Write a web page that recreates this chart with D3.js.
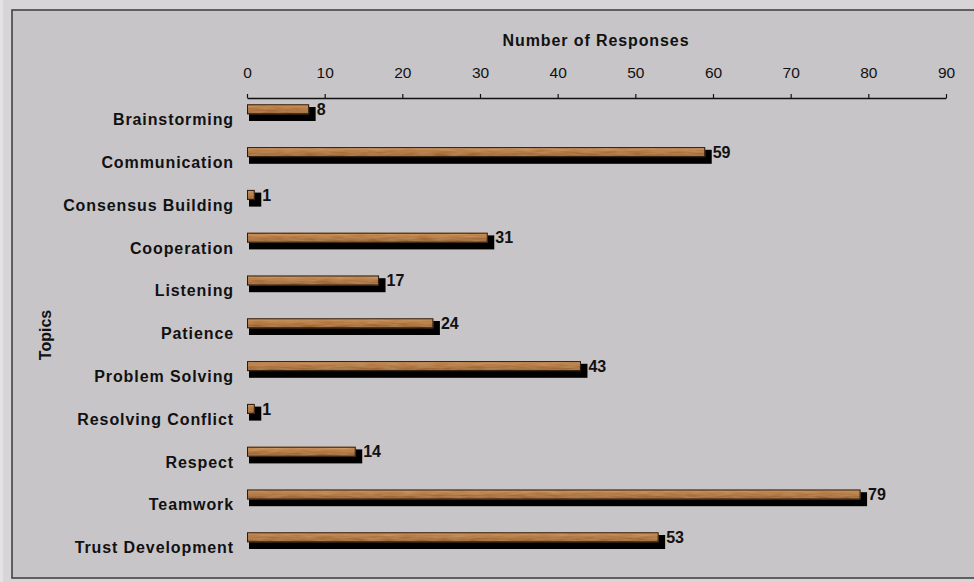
<!DOCTYPE html>
<html><head><meta charset="utf-8">
<script src="https://cdn.jsdelivr.net/npm/d3@7"></script>
<style>
html,body{margin:0;padding:0;background:#d8d6d8;}
svg{display:block;}
</style></head>
<body>
<svg id="chart" width="974" height="582"></svg>
<script>
const categories = ["Brainstorming","Communication","Consensus Building","Cooperation","Listening","Patience","Problem Solving","Resolving Conflict","Respect","Teamwork","Trust Development"];
const values = [8,59,1,31,17,24,43,1,14,79,53];
const tickValues = [0,10,20,30,40,50,60,70,80,90];
const xTitle = "Number of Responses";
const yTitle = "Topics";

const svg = d3.select("#chart");
const W = 974, H = 582;
const font = "'Liberation Sans', Arial, sans-serif";

const defs = svg.append("defs");
const grad = defs.append("linearGradient").attr("id","wood").attr("x1",0).attr("y1",0).attr("x2",0).attr("y2",1);
[[0,"#cf9658"],[0.3,"#b97c42"],[0.6,"#a66b35"],[0.85,"#9a6230"],[1,"#8d5829"]].forEach(s=>grad.append("stop").attr("offset",s[0]).attr("stop-color",s[1]));
const filt = defs.append("filter").attr("id","grain").attr("x",0).attr("y",0).attr("width",1).attr("height",1);
filt.append("feTurbulence").attr("type","fractalNoise").attr("baseFrequency","0.06 0.6").attr("numOctaves",2).attr("seed",3).attr("result","noise");
filt.append("feColorMatrix").attr("in","noise").attr("type","matrix")
  .attr("values","0 0 0 0 0.8  0 0 0 0 0.55  0 0 0 0 0.3  0 0 0 0.4 -0.1").attr("result","tint");
filt.append("feComposite").attr("in","tint").attr("in2","SourceGraphic").attr("operator","atop");

// outer background
svg.append("rect").attr("x",0).attr("y",0).attr("width",W).attr("height",H).attr("fill","#d7d5d7");
svg.append("rect").attr("x",0).attr("y",0).attr("width",3).attr("height",H).attr("fill","#e4e3e4");
// chart area frame
svg.append("rect").attr("x",12).attr("y",10).attr("width",980).attr("height",568)
  .attr("fill","#c7c5c8").attr("stroke","#444").attr("stroke-width",1.6);

const x = d3.scaleLinear().domain([0,90]).range([247,946]);
const y = d3.scaleBand().domain(categories).range([98.6,569.4]);

// x axis on top
const axisY = 98;
const xAxis = svg.append("g").attr("transform",`translate(0,${axisY})`)
  .call(d3.axisTop(x).tickValues(tickValues).tickSize(4).tickPadding(16.5).tickSizeOuter(0));
xAxis.select(".domain").attr("stroke","#111").attr("stroke-width",1.3);
xAxis.selectAll(".tick line").attr("stroke","#111").attr("stroke-width",1.2);
xAxis.selectAll(".tick text").attr("font-family",font).attr("font-size",15.5).attr("fill","#111");

svg.append("text").attr("x",596).attr("y",46).attr("text-anchor","middle")
  .attr("font-family",font).attr("font-size",16).attr("font-weight","bold").attr("fill","#111")
  .attr("letter-spacing","0.9px").text(xTitle);

// y axis labels
const yAxis = svg.append("g").attr("transform","translate(247,0)")
  .call(d3.axisLeft(y).tickSize(0).tickPadding(13));
yAxis.select(".domain").remove();
yAxis.selectAll(".tick text").attr("font-family",font).attr("font-size",16).attr("font-weight","bold")
  .attr("fill","#111").attr("letter-spacing","0.9px");

svg.append("text").attr("transform","translate(51,335) rotate(-90)").attr("text-anchor","middle")
  .attr("font-family",font).attr("font-size",16).attr("font-weight","bold").attr("fill","#111").text(yTitle);

// bars
const data = categories.map((c,i)=>({c, v: values[i]}));
const cy = d => y(d.c) + y.bandwidth()/2;
const g = svg.append("g");
g.selectAll("rect.shadow").data(data).join("rect").attr("class","shadow")
  .attr("x", d => x(0)+2).attr("y", d => cy(d)-13)
  .attr("width", d => x(d.v)-x(0)+4.5).attr("height", 14)
  .attr("fill","#000");
g.selectAll("rect.bar").data(data).join("rect").attr("class","bar")
  .attr("x", d => x(0)).attr("y", d => cy(d)-15.7)
  .attr("width", d => x(d.v)-x(0)).attr("height", 10)
  .attr("fill","url(#wood)").attr("filter","url(#grain)");
g.selectAll("rect.edge").data(data).join("rect").attr("class","edge")
  .attr("x", d => x(0)+0.5).attr("y", d => cy(d)-15.2)
  .attr("width", d => x(d.v)-x(0)-1).attr("height", 9)
  .attr("fill","none").attr("stroke","#2a1a10").attr("stroke-width",1);
g.selectAll("text.val").data(data).join("text").attr("class","val")
  .attr("x", d => x(d.v)+7.5).attr("y", d => cy(d)-5)
  .attr("font-family",font).attr("font-size",16).attr("font-weight","bold").attr("fill","#111")
  .text(d => d.v);
</script>
</body></html>
